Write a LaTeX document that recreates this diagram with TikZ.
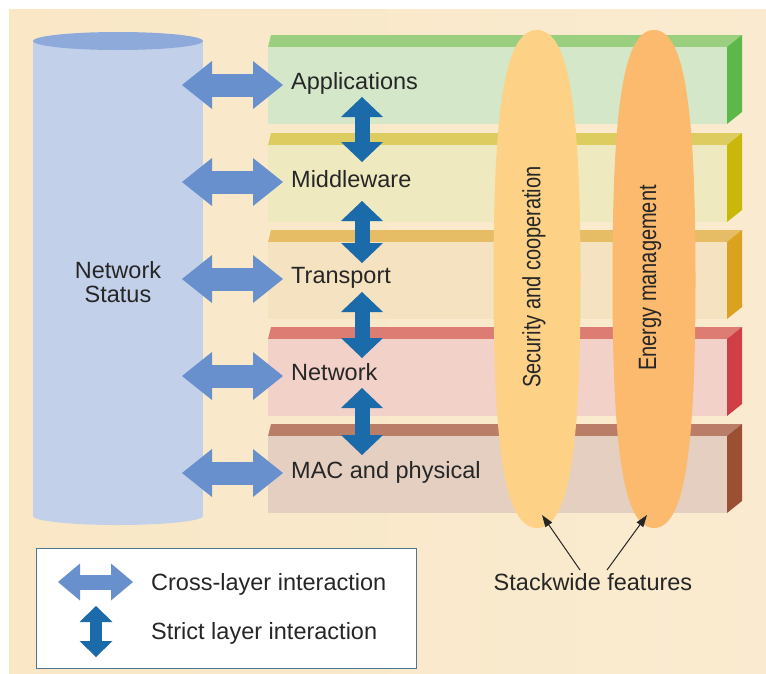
\documentclass[tikz,border=0pt]{standalone}
\usepackage{fontspec}
\setmainfont{Liberation Sans}
\usepackage{tikz}
\usetikzlibrary{arrows.meta}

\definecolor{bgleft}{HTML}{F9E7C6}
\definecolor{bgmid}{HTML}{FDF3E4}
\definecolor{bgright}{HTML}{FAEBD0}
\definecolor{cylbody}{HTML}{C3D0EA}
\definecolor{cyltop}{HTML}{8DAADB}
\definecolor{crossblue}{HTML}{6890CD}
\definecolor{strictblue}{HTML}{1B6AAA}
\definecolor{apptop}{HTML}{9ACF80}
\definecolor{appfront}{HTML}{D4E8C9}
\definecolor{appside}{HTML}{5DB84A}
\definecolor{midtop}{HTML}{DDCC5F}
\definecolor{midfront}{HTML}{EFE9C0}
\definecolor{midside}{HTML}{C9B70A}
\definecolor{tratop}{HTML}{E6BD65}
\definecolor{trafront}{HTML}{F5E2C0}
\definecolor{traside}{HTML}{DAA21E}
\definecolor{nettop}{HTML}{DD7C72}
\definecolor{netfront}{HTML}{F2D2C8}
\definecolor{netside}{HTML}{CF3F45}
\definecolor{mactop}{HTML}{B97D68}
\definecolor{macfront}{HTML}{E4CFC1}
\definecolor{macside}{HTML}{9B5033}
\definecolor{secfill}{HTML}{FDD186}
\definecolor{enfill}{HTML}{FBBA6E}
\definecolor{legendline}{HTML}{4F7590}
\definecolor{txt}{HTML}{262626}

% one layer of the stack: name, top of front face, top/front/side colours
\newcommand{\stacklayer}[5]{%
  \fill[#3] (268,#2) -- (727,#2) -- (742,#2-12) -- (271,#2-12) -- cycle;
  \node[layerface, fill=#4] (#1) at (268,#2) {};
  \fill[#5] (727,#2) -- (742,#2-12) -- (742,#2+65) -- (727,#2+77) -- cycle;
}
% stackwide feature: centre x, half width, colour
\newcommand{\spindle}[3]{%
  \fill[#3] (#1,30) .. controls (#1+0.75*#2,30) and (#1+#2,110) .. (#1+#2,279)
    .. controls (#1+#2,448) and (#1+0.75*#2,528) .. (#1,528)
    .. controls (#1-0.75*#2,528) and (#1-#2,448) .. (#1-#2,279)
    .. controls (#1-#2,110) and (#1-0.75*#2,30) .. (#1,30) -- cycle;
}

\tikzset{
  lbl/.style={font=\fontsize{23.5}{24}\selectfont, text=txt, inner sep=0},
  vlbl/.style={font=\fontsize{25}{26}\selectfont, text=txt, inner sep=0, rotate=90},
  layerface/.style={anchor=north west, minimum width=459, minimum height=77, inner sep=0},
  crossarrow/.style={draw=crossblue, line width=23,
    {Triangle[length=30,width=48,line width=0pt]}-{Triangle[length=30,width=48,line width=0pt]}},
  strictarrow/.style={draw=strictblue, line width=15,
    {Triangle[length=20,width=42,line width=0pt]}-{Triangle[length=20,width=42,line width=0pt]}},
  featarrow/.style={draw=txt, line width=1, -{Triangle[length=12,width=8]}},
}

\begin{document}
\begin{tikzpicture}[x=1pt, y=-1pt]

	\useasboundingbox (0,0) rectangle (766,673);
	\fill[white] (0,0) rectangle (766,673);
	\shade[left color=bgleft, middle color=bgmid, right color=bgright] (9,9) rectangle (766,673);

	% network status cylinder
	\fill[cylbody] (33,41) rectangle (203,516);
	\fill[cylbody] (118,516) ellipse [x radius=85, y radius=9];
	\fill[cyltop] (118,41) ellipse [x radius=85, y radius=9];
	\node[lbl, align=center] (status) at (118,282) {Network\\Status};

	% protocol stack
	\stacklayer{app}{47}{apptop}{appfront}{appside}
	\stacklayer{mid}{145}{midtop}{midfront}{midside}
	\stacklayer{tra}{242}{tratop}{trafront}{traside}
	\stacklayer{net}{339}{nettop}{netfront}{netside}
	\stacklayer{mac}{436}{mactop}{macfront}{macside}

	\node[lbl, anchor=base west] (applbl) at (291,89) {Applications};
	\node[lbl, anchor=base west] (midlbl) at (291,187) {Middleware};
	\node[lbl, anchor=base west] (tralbl) at (291,283) {Transport};
	\node[lbl, anchor=base west] (netlbl) at (291,380) {Network};
	\node[lbl, anchor=base west] (maclbl) at (291,478) {MAC and physical};

	% stackwide features
	\spindle{537}{43.5}{secfill}
	\spindle{654}{41.5}{enfill}
	\node[vlbl] (sec) at (534,277) {\scalebox{0.8}[1]{Security and cooperation}};
	\node[vlbl] (energy) at (650,278) {\scalebox{0.8}[1]{Energy management}};

	% cross-layer interaction
	\coordinate (c1a) at (182,85);  \coordinate (c1b) at (283,85);
	\coordinate (c2a) at (182,182); \coordinate (c2b) at (283,182);
	\coordinate (c3a) at (182,279); \coordinate (c3b) at (283,279);
	\coordinate (c4a) at (182,376); \coordinate (c4b) at (283,376);
	\coordinate (c5a) at (182,473); \coordinate (c5b) at (283,473);
	\draw[crossarrow] (c1a) -- (c1b);
	\draw[crossarrow] (c2a) -- (c2b);
	\draw[crossarrow] (c3a) -- (c3b);
	\draw[crossarrow] (c4a) -- (c4b);
	\draw[crossarrow] (c5a) -- (c5b);

	% strict layer interaction
	\coordinate (s1a) at (362,97);  \coordinate (s1b) at (362,162);
	\coordinate (s2a) at (362,201); \coordinate (s2b) at (362,263);
	\coordinate (s3a) at (362,292); \coordinate (s3b) at (362,358);
	\coordinate (s4a) at (362,388); \coordinate (s4b) at (362,455);
	\draw[strictarrow] (s1a) -- (s1b);
	\draw[strictarrow] (s2a) -- (s2b);
	\draw[strictarrow] (s3a) -- (s3b);
	\draw[strictarrow] (s4a) -- (s4b);

	\node[lbl, anchor=base] (stack) at (593,590) {Stackwide features};
	\coordinate (secend) at (542,515);
	\coordinate (enend) at (647,515);
	\draw[featarrow] (580,570) -- (secend);
	\draw[featarrow] (607,570) -- (enend);

	% legend
	\node[draw=legendline, line width=1.2, fill=white, anchor=north west,
	      minimum width=380, minimum height=120] (legend) at (36,548) {};
	\coordinate (la) at (58,582);  \coordinate (lb) at (133,582);
	\coordinate (lc) at (96,606);  \coordinate (ld) at (96,657);
	\draw[draw=crossblue, line width=15,
	      {Triangle[length=22,width=37,line width=0pt]}-{Triangle[length=22,width=37,line width=0pt]}] (la) -- (lb);
	\draw[draw=strictblue, line width=12,
	      {Triangle[length=16,width=33,line width=0pt]}-{Triangle[length=16,width=33,line width=0pt]}] (lc) -- (ld);
	\node[lbl, anchor=base west] (crosslbl) at (151,590) {Cross-layer interaction};
	\node[lbl, anchor=base west] (strictlbl) at (151,639) {Strict layer interaction};

\end{tikzpicture}
\end{document}
